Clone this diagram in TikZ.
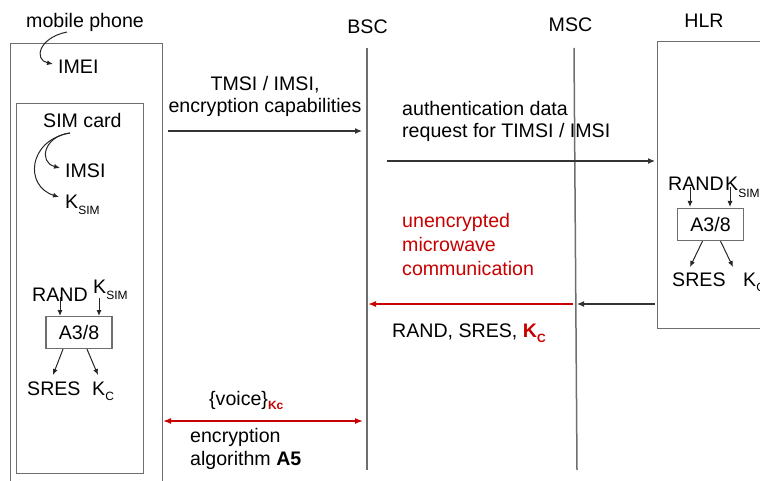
\documentclass[tikz,border=0pt]{standalone}
\usepackage{fontspec}
\setmainfont{Liberation Sans}
\usetikzlibrary{arrows.meta, positioning}
\definecolor{msgred}{RGB}{200,0,0}
\definecolor{boxgray}{RGB}{110,110,110}
\newcommand{\lowsub}[2][6pt]{\raisebox{-#1}{\fontsize{12}{12}\selectfont #2}}
\tikzset{
  lbl/.style={font=\fontsize{19.6}{22.5}\selectfont, inner sep=0pt, anchor=base west},
  entity/.style={draw=boxgray, line width=1.4pt, anchor=north west},
  lifeline/.style={draw=boxgray, line width=1.5pt},
  algo/.style={draw=boxgray, line width=1.3pt, font=\fontsize{19.6}{22.5}\selectfont,
               minimum width=66pt, minimum height=32pt, inner sep=0pt},
  msg/.style={-{Latex[length=7pt,width=6pt]}, draw=black!80, line width=1.1pt},
  redmsg/.style={-{Latex[length=8pt,width=6pt]}, draw=msgred, line width=1.5pt},
  key/.style={-{Latex[length=6pt,width=5pt]}, draw=black!85, line width=1pt},
}

\begin{document}
\begin{tikzpicture}[x=1pt, y=-1pt]
  \useasboundingbox (0,0) rectangle (760,481);
  \clip (0,0) rectangle (760,481);

  % Entities and lifelines
  \node[entity, minimum width=152pt, minimum height=470pt] (phone) at (10,43) {};
  \node[entity, minimum width=127pt, minimum height=370pt] (sim) at (16,103) {};
  \node[entity, minimum width=150pt, minimum height=287pt] (hlr) at (657,41) {};

  \node[lbl] (phonelbl) at (26,28) {mobile phone};
  \node[lbl, anchor=base] (bsc) at (367.5,34) {BSC};
  \node[lbl, anchor=base] (msc) at (570.5,32) {MSC};
  \node[lbl, anchor=base] (hlrlbl) at (704,28) {HLR};

  \coordinate (bscT) at (367,48);
  \coordinate (bscB) at (367,470);
  \coordinate (mscT) at (574,48);
  \coordinate (mscB) at (577,470);
  \draw[lifeline] (bscT) -- (bscB);
  \draw[lifeline] (mscT) -- (mscB);

  % Mobile phone contents
  \node[lbl] (imei) at (58,74) {IMEI};
  \node[lbl] (simlbl) at (43,128) {SIM card};
  \node[lbl] (imsi) at (65,178) {IMSI};
  \node[lbl] (ksim) at (65,208) {K\lowsub{SIM}};

  \draw[key] ([shift={(41,4)}]phonelbl.base west) .. controls (38,38) and (34,60) .. ([shift={(-5,-10)}]imei.base west);
  \draw[key] ([shift={(27,5)}]simlbl.base west) .. controls (44,136) and (38,162) .. ([shift={(-5,-10)}]imsi.base west);
  \draw[key] ([shift={(27,5)}]simlbl.base west) .. controls (28,140) and (24,186) .. ([shift={(-6,-11)}]ksim.base west);

  \node[lbl] (randA) at (32,301) {RAND};
  \node[lbl] (ksimA) at (93,293) {K\lowsub{SIM}};
  \node[algo] (algoA) at (79,332.5) {A3/8};
  \node[lbl] (sresA) at (27,395) {SRES};
  \node[lbl] (kcA) at (92,395) {K\lowsub[5pt]{C}};

  \draw[key] ([shift={(28,-4)}]randA.base west) -- ++(0,19);
  \draw[key] ([shift={(6,5)}]ksimA.base west) -- ++(0,18);
  \draw[key] ([xshift=-16pt]algoA.south) -- ([shift={(26,-20)}]sresA.base west);
  \draw[key] ([xshift=8pt]algoA.south) -- ([shift={(6,-20)}]kcA.base west);

  % HLR contents
  \node[lbl] (randH) at (668,191) {RAND};
  \node[lbl] (ksimH) at (725,191) {K\lowsub{SIM}};
  \node[algo] (algoH) at (710.5,224.5) {A3/8};
  \node[lbl] (sresH) at (672,286) {SRES};
  \node[lbl] (kcH) at (743,286) {K\lowsub[5pt]{C}};

  \draw[key] ([shift={(22,-4)}]randH.base west) -- ++(0,20);
  \draw[key] ([shift={(5,-4)}]ksimH.base west) -- ++(0,20);
  \draw[key] ([xshift=-8pt]algoH.south) -- ([shift={(18,-19)}]sresH.base west);
  \draw[key] ([xshift=10pt]algoH.south) -- ([shift={(-10,-19)}]kcH.base west);

  % Messages (multi-line labels sit on their last baseline)
  \coordinate (idS) at (168,131);
  \coordinate (idE) at (362,131);
  \draw[msg] (idS) -- (idE);
  \node[lbl, anchor=base, align=center] (idlbl) at (265,113) {TMSI / IMSI,\\encryption capabilities};

  \coordinate (authS) at (387,161);
  \coordinate (authE) at (655,161);
  \draw[msg] (authS) -- (authE);
  \node[lbl, align=left] (authlbl) at (402,138) {authentication data\\request for TIMSI / IMSI};

  \coordinate (hlrO) at (655,304);
  \coordinate (mscI) at (577,304);
  \coordinate (mscO) at (573,304);
  \coordinate (bscI) at (368,304);
  \draw[msg] (hlrO) -- (mscI);
  \draw[redmsg] (mscO) -- (bscI);
  \node[lbl, align=left, text=msgred, font=\fontsize{19.6}{24}\selectfont] (radio) at (402,275) {unencrypted\\microwave\\communication};
  \node[lbl] (triple) at (392,337) {RAND, SRES, \textcolor{msgred}{\textbf{K\lowsub[5pt]{C}}}};

  \coordinate (voiceL) at (163,421);
  \coordinate (voiceR) at (363,421);
  \draw[redmsg, {Latex[length=8pt,width=6pt]}-{Latex[length=8pt,width=6pt]}] (voiceL) -- (voiceR);
  \node[lbl] (voice) at (209,405) {\{voice\}\lowsub[4pt]{\textcolor{msgred}{\textbf{Kc}}}};
  \node[lbl, align=left] (cipher) at (190,465) {encryption\\algorithm \textbf{A5}};

\end{tikzpicture}
\end{document}
